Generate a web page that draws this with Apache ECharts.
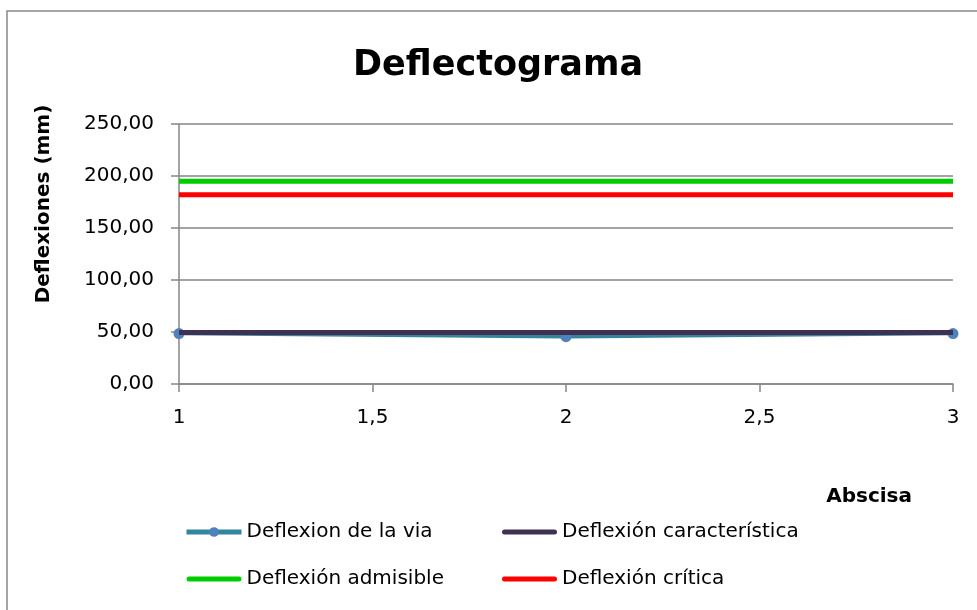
<!DOCTYPE html>
<html>
<head>
<meta charset="utf-8">
<script src="https://cdn.jsdelivr.net/npm/echarts@6/dist/echarts.min.js"></script>
<style>
html,body{margin:0;padding:0;background:#fff;}
#chart{width:977px;height:610px;}
</style>
</head>
<body>
<div id="chart"></div>
<script>
var xValues = [1, 2, 3];
var deflexionVia = [48.5, 45.5, 48.5];
var deflexionCaracteristica = [49.5, 49.5, 49.5];
var deflexionAdmisible = [195, 195, 195];
var deflexionCritica = [182, 182, 182];
var seriesNames = ['Deflexion de la via', 'Deflexión característica', 'Deflexión admisible', 'Deflexión crítica'];
var seriesColors = ['#31859C', '#403152', '#00CC00', '#FF0000'];
var titleText = 'Deflectograma';
var yAxisTitle = 'Deflexiones (mm)';
var xAxisTitle = 'Abscisa';

function pairs(vals) {
  return xValues.map(function (x, i) { return [x, vals[i]]; });
}
var FONT = 'DejaVu Sans';
var BAR_ICON = 'path://M2.5,0 L52.5,0 A2.5,2.5 0 0 1 52.5,5 L2.5,5 A2.5,2.5 0 0 1 2.5,0 Z';
function plainItem(i) {
  return { name: seriesNames[i], icon: BAR_ICON, itemStyle: { color: seriesColors[i] } };
}
var viaItem = { name: seriesNames[0], lineStyle: { width: 5, color: seriesColors[0] }, itemStyle: { color: '#4F81BD' } };
var legendText = { fontFamily: FONT, fontSize: 20, color: '#000', lineHeight: 24 };

var chart = echarts.init(document.getElementById('chart'));
chart.setOption({
  animation: false,
  backgroundColor: '#ffffff',
  textStyle: { fontFamily: FONT },
  title: {
    text: titleText,
    left: 348,
    top: 43,
    textStyle: { fontFamily: FONT, fontSize: 35, fontWeight: 'bold', color: '#000' }
  },
  graphic: [
    { type: 'rect', shape: { x: 7, y: 11, width: 1000, height: 700 }, style: { fill: 'none', stroke: '#898989', lineWidth: 1.5 }, silent: true },
    { type: 'text', x: 44, y: 204, rotation: Math.PI / 2,
      style: { text: yAxisTitle, font: 'bold 20px "DejaVu Sans"', fill: '#000', align: 'center', verticalAlign: 'middle' } },
    { type: 'text', x: 912, y: 497,
      style: { text: xAxisTitle, font: 'bold 20px "DejaVu Sans"', fill: '#000', align: 'right', verticalAlign: 'middle' } }
  ],
  legend: [
    {
      data: [viaItem, plainItem(2)],
      orient: 'vertical', left: 179, top: 515,
      itemWidth: 55, itemHeight: 12, itemGap: 23,
      textStyle: legendText
    },
    {
      data: [plainItem(1), plainItem(3)],
      orient: 'vertical', left: 497, top: 515,
      itemWidth: 55, itemHeight: 12, itemGap: 23,
      textStyle: legendText
    }
  ],
  grid: { left: 179, right: 24, top: 124, bottom: 226, containLabel: false },
  xAxis: {
    type: 'value', min: 1, max: 3, interval: 0.5,
    axisLine: { show: true, onZero: false, lineStyle: { color: '#868686', width: 1.5 } },
    axisTick: { show: true, length: 8, lineStyle: { color: '#868686', width: 1.5 } },
    splitLine: { show: false },
    axisLabel: {
      margin: 24, fontFamily: FONT, fontSize: 20, color: '#000',
      formatter: function (v) { return String(v).replace('.', ','); }
    }
  },
  yAxis: {
    type: 'value', min: 0, max: 250, interval: 50,
    axisLine: { show: true, lineStyle: { color: '#868686', width: 1.5 } },
    axisTick: { show: true, length: 8, lineStyle: { color: '#868686', width: 1.5 } },
    splitLine: { show: true, lineStyle: { color: '#868686', width: 1.5 } },
    axisLabel: {
      margin: 25, fontFamily: FONT, fontSize: 20, color: '#000',
      formatter: function (v) { return v.toFixed(2).replace('.', ','); }
    }
  },
  series: [
    {
      name: seriesNames[0], type: 'line', data: pairs(deflexionVia),
      symbol: 'circle', symbolSize: 11, z: 3,
      lineStyle: { color: seriesColors[0], width: 3.5 },
      itemStyle: { color: '#4F81BD' }
    },
    {
      name: seriesNames[1], type: 'line', data: pairs(deflexionCaracteristica),
      symbol: 'none', z: 4,
      lineStyle: { color: seriesColors[1], width: 5 },
      itemStyle: { color: seriesColors[1] }
    },
    {
      name: seriesNames[2], type: 'line', data: pairs(deflexionAdmisible),
      symbol: 'none',
      lineStyle: { color: seriesColors[2], width: 5 },
      itemStyle: { color: seriesColors[2] }
    },
    {
      name: seriesNames[3], type: 'line', data: pairs(deflexionCritica),
      symbol: 'none',
      lineStyle: { color: seriesColors[3], width: 5 },
      itemStyle: { color: seriesColors[3] }
    }
  ]
});
</script>
</body>
</html>
